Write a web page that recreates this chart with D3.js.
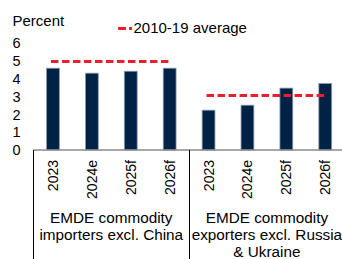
<!DOCTYPE html>
<html><head><meta charset="utf-8">
<script src="https://cdn.jsdelivr.net/npm/d3@7"></script>
<style>body{margin:0;background:#fff;}svg{display:block;font-family:"Liberation Sans",Arial,sans-serif;}</style>
</head><body>
<script>
const groups = ["EMDE commodity importers excl. China", "EMDE commodity exporters excl. Russia & Ukraine"];
const groupLines = [["EMDE commodity","importers excl. China"],["EMDE commodity","exporters excl. Russia","& Ukraine"]];
const years = ["2023","2024e","2025f","2026f"];
const importersValues = [4.6, 4.32, 4.43, 4.6];
const exportersValues = [2.24, 2.52, 3.48, 3.74];
const averages = [4.97, 3.07];
const yTicks = [0,1,2,3,4,5,6];
const legendLabel = "2010-19 average";

const W = 342, H = 259;
const svg = d3.select("body").append("svg").attr("width", W).attr("height", H);

const rows = [];
[importersValues, exportersValues].forEach((vals, gi) => {
  vals.forEach((v, i) => rows.push({key: gi + "-" + years[i], year: years[i], g: gi, v}));
});

const x = d3.scaleBand().domain(rows.map(d => d.key)).range([33.5, 344.7]).paddingInner(0.67).paddingOuter(0.335);
const y = d3.scaleLinear().domain([0, 6]).range([150, 43.3]);

// y tick labels
const yAxis = d3.axisLeft(y).tickValues(yTicks).tickSize(0).tickPadding(0).tickFormat(d3.format("d"));
const ya = svg.append("g").attr("transform", "translate(20.5,0)").call(yAxis);
ya.select(".domain").remove();
ya.selectAll("text").attr("font-size", 14.5).attr("fill", "#000").attr("font-family", "Liberation Sans, Arial, sans-serif");

// bars
svg.append("g").selectAll("rect").data(rows).join("rect")
  .attr("x", d => x(d.key)).attr("width", x.bandwidth())
  .attr("y", d => y(d.v)).attr("height", d => y(0) - y(d.v))
  .attr("fill", "#002345").attr("stroke", "#8c9cb0").attr("stroke-width", 0.8);

// baseline
svg.append("line").attr("x1", 33.5).attr("x2", W).attr("y1", y(0)).attr("y2", y(0))
  .attr("stroke", "#8a8a8a").attr("stroke-width", 1.5);

// group separators
[0, 1].forEach(g => {
  const gx = Math.round(x(g + "-" + years[0]) - (x.step() - x.bandwidth()) / 2) + 0.5;
  svg.append("line").attr("x1", gx).attr("x2", gx).attr("y1", y(0)).attr("y2", H)
    .attr("stroke", "#000").attr("stroke-width", 1);
});

// average lines
averages.forEach((a, g) => {
  const x1 = x(g + "-" + years[0]) + x.bandwidth() / 2 - 2;
  const x2 = x(g + "-" + years[3]) + x.bandwidth() / 2;
  svg.append("line").attr("x1", x1).attr("x2", x2).attr("y1", y(a)).attr("y2", y(a))
    .attr("stroke", "#e8202e").attr("stroke-width", 3).attr("stroke-dasharray", "7.5,3.5");
});

// year labels
svg.append("g").selectAll("text").data(rows).join("text")
  .attr("transform", d => `translate(${x(d.key) + x.bandwidth() / 2 + 5},160) rotate(-90)`)
  .attr("text-anchor", "end").attr("font-size", 14).attr("fill", "#000").text(d => d.year);

// group labels
groupLines.forEach((lines, g) => {
  const cx = (x(g + "-" + years[0]) + x(g + "-" + years[3]) + x.bandwidth()) / 2;
  lines.forEach((ln, i) => {
    svg.append("text").attr("x", cx).attr("y", 223.3 + i * 16.8).attr("text-anchor", "middle")
      .attr("font-size", 15.3).attr("fill", "#000").text(ln);
  });
});

// axis title
svg.append("text").attr("x", 12.5).attr("y", 26).attr("font-size", 15).attr("fill", "#000").text("Percent");

// legend
svg.append("line").attr("x1", 118).attr("x2", 132).attr("y1", 28.5).attr("y2", 28.5)
  .attr("stroke", "#e8202e").attr("stroke-width", 3).attr("stroke-dasharray", "8,3");
svg.append("text").attr("x", 133.5).attr("y", 33.3).attr("font-size", 15).attr("fill", "#000").text(legendLabel);
</script>
</body></html>
